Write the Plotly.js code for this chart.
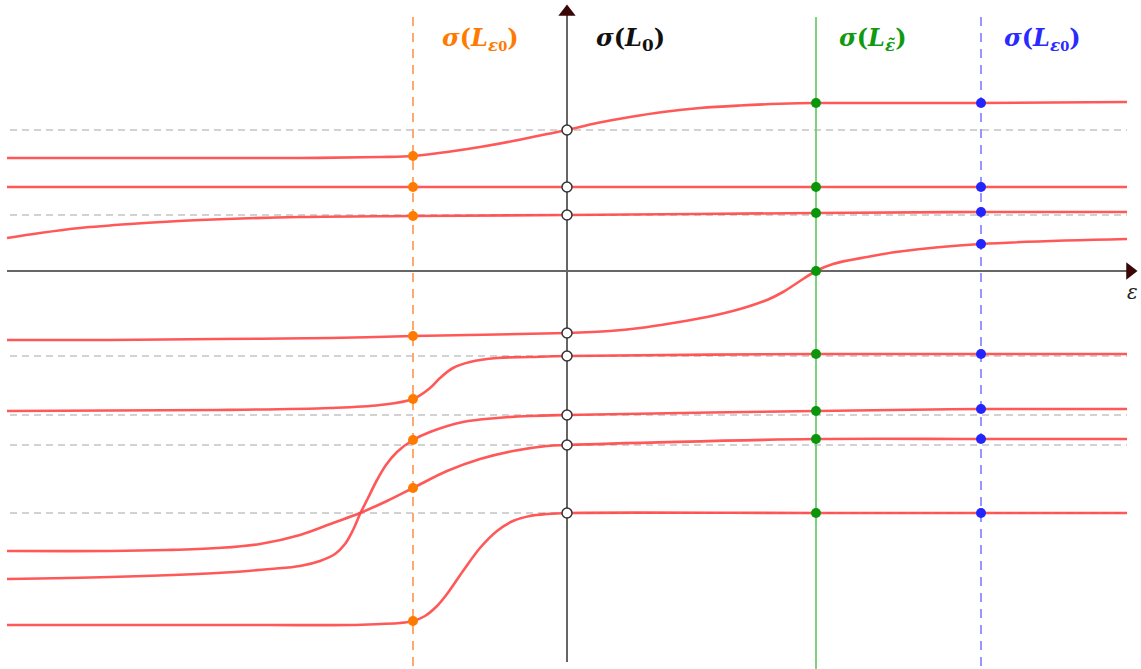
<!DOCTYPE html>
<html>
<head>
<meta charset="utf-8">
<script src="https://cdn.plot.ly/plotly-3.0.1.min.js"></script>
<style>
  html, body { margin: 0; padding: 0; background: #ffffff; }
  #chart { width: 1141px; height: 669px; }
</style>
</head>
<body>
<div id="chart"></div>
<script>
// Spectral branches sigma(L_eps) as functions of eps.
// Each branch: sampled eps positions and eigenvalue levels.
const branchA_eps = [-560, -367, -267, -187, -154, -120, -87, -54, -20, 0, 30, 63, 96, 133, 173, 213, 249, 414, 560];
const branchA_val = [113, 113, 113, 114, 115, 119, 124, 130, 137, 141, 148, 154, 159, 163, 165.5, 167.2, 168, 168, 169];

const branchB_eps = [-560, -154, 0, 249, 414, 560];
const branchB_val = [84, 84, 84, 84, 84, 84];

const branchC_eps = [-560, -527, -487, -437, -367, -267, -154, 0, 249, 414, 560];
const branchC_val = [33, 38, 43, 47, 51, 54, 55, 56, 58, 59, 59];

const branchD_eps = [-560, -457, -350, -237, -154, 0, 43, 73, 106, 140, 173, 200, 216, 230, 249, 266, 300, 333, 414, 560];
const branchD_val = [-69, -69, -68, -67, -65, -62, -60, -57, -52, -46, -38, -29, -21, -12, 0, 7, 14, 19.5, 27, 32];

const branchE_eps = [-560, -350, -237, -187, -154, -137, -127, -114, -97, -70, -37, 0, 249, 414, 560];
const branchE_val = [-140, -139, -137, -134, -128, -117, -107, -97, -91, -87, -86, -85, -83, -83, -83];

const branchF_eps = [-560, -457, -350, -297, -267, -247, -232, -222, -214, -207, -199, -190, -181, -170, -154, -137, -104, -70, -37, 0, 249, 414, 560];
const branchF_val = [-308, -306, -302, -298, -295, -290, -283, -273, -259, -243, -227, -209, -194, -181, -169, -161, -151, -147, -145, -144, -140, -138, -138];

const branchG_eps = [-560, -457, -400, -350, -307, -267, -234, -207, -180, -154, -120, -87, -54, -20, 0, 249, 414, 560];
const branchG_val = [-280, -280, -279, -277, -273, -264, -252, -242, -230, -217, -200, -188, -180, -175, -174, -168, -168, -168];

const branchH_eps = [-560, -400, -300, -217, -187, -167, -154, -142, -130, -120, -104, -87, -70, -54, -37, -20, 0, 249, 414, 560];
const branchH_val = [-354, -354, -354, -354, -353, -352, -350, -345, -335, -323, -300, -277, -260, -250, -245, -243, -242, -242, -242, -242];

// Parameters at which the spectrum is sampled
const epsOrange = -154;   // -eps0
const epsZero = 0;        // L_0
const epsGreen = 249;     // eps tilde
const epsBlue = 414;      // eps0

// Levels of sigma(L_0) marked with dashed guides
const guideLevels = [141, 56, -85, -144, -174, -242];

const branches = [
  [branchA_eps, branchA_val], [branchB_eps, branchB_val],
  [branchC_eps, branchC_val], [branchD_eps, branchD_val],
  [branchE_eps, branchE_val], [branchF_eps, branchF_val],
  [branchG_eps, branchG_val], [branchH_eps, branchH_val]
];

function valueAt(br, e) {
  const i = br[0].indexOf(e);
  return br[1][i];
}

const traces = [];

// dashed horizontal guides
guideLevels.forEach(v => {
  traces.push({
    x: [-557, 560], y: [v, v], mode: 'lines', hoverinfo: 'skip',
    line: {color: '#c4c4c4', width: 1.6, dash: '7px,5px'}
  });
});

// vertical lines at the sampled parameters
traces.push({x: [epsOrange, epsOrange], y: [254, -398], mode: 'lines', hoverinfo: 'skip',
  line: {color: '#ffa060', width: 1.8, dash: '9px,7px'}});
traces.push({x: [epsGreen, epsGreen], y: [254, -398], mode: 'lines', hoverinfo: 'skip',
  line: {color: '#70cc70', width: 1.8}});
traces.push({x: [epsBlue, epsBlue], y: [254, -398], mode: 'lines', hoverinfo: 'skip',
  line: {color: '#8c8cff', width: 1.8, dash: '9px,7px'}});

// coordinate axes
traces.push({x: [-560, 564], y: [0, 0], mode: 'lines', hoverinfo: 'skip',
  line: {color: '#666666', width: 2}});
traces.push({x: [0, 0], y: [-391, 258], mode: 'lines', hoverinfo: 'skip',
  line: {color: '#666666', width: 2}});
traces.push({x: [563], y: [0], mode: 'markers', hoverinfo: 'skip',
  marker: {symbol: 'triangle-right', size: 15, color: '#3a0606'}});
traces.push({x: [0], y: [259], mode: 'markers', hoverinfo: 'skip',
  marker: {symbol: 'triangle-up', size: 15, color: '#3a0606'}});

// spectral branches
branches.forEach(br => {
  traces.push({
    x: br[0], y: br[1], mode: 'lines', hoverinfo: 'skip',
    line: {color: 'rgba(255,70,70,0.9)', width: 2.6, shape: 'spline', smoothing: 1.0}
  });
});

// eigenvalues at each sampled parameter
function dots(e, fill, lineColor) {
  traces.push({
    x: branches.map(() => e), y: branches.map(br => valueAt(br, e)),
    mode: 'markers', hoverinfo: 'skip',
    marker: {size: 10, color: fill, line: {color: lineColor, width: lineColor ? 1.5 : 0}}
  });
}
dots(epsOrange, '#ff7a00', null);
dots(epsZero, '#ffffff', '#333333');
dots(epsGreen, '#0a960a', null);
dots(epsBlue, '#2424ff', null);

const labelFont = {family: 'DejaVu Serif, serif', size: 24};
const sub0 = '<span style="font-size:13px">0</span>';
const layout = {
  width: 1141, height: 669,
  margin: {l: 0, r: 0, t: 0, b: 0},
  paper_bgcolor: '#ffffff', plot_bgcolor: '#ffffff',
  showlegend: false,
  xaxis: {range: [-567, 574], visible: false, fixedrange: true},
  yaxis: {range: [-398, 271], visible: false, fixedrange: true},
  annotations: [
    {x: -87, y: 232, text: '<b><i>σ</i>(<i>L</i><sub><i>ε</i>' + sub0 + '</sub>)</b>', showarrow: false,
     font: Object.assign({}, labelFont, {color: '#ff7a00'})},
    {x: 63, y: 232, text: '<b><i>σ</i>(<i>L</i><sub>0</sub>)</b>', showarrow: false,
     font: Object.assign({}, labelFont, {color: '#111111'})},
    {x: 306, y: 232, text: '<b><i>σ</i>(<i>L</i><sub><i>ε̃</i></sub>)</b>', showarrow: false,
     font: Object.assign({}, labelFont, {color: '#119911'})},
    {x: 475, y: 232, text: '<b><i>σ</i>(<i>L</i><sub><i>ε</i>' + sub0 + '</sub>)</b>', showarrow: false,
     font: Object.assign({}, labelFont, {color: '#2a2aff'})},
    {x: 565, y: -21, text: '<i>ε</i>', showarrow: false,
     font: {family: 'DejaVu Serif, serif', size: 20, color: '#222222'}}
  ]
};

Plotly.newPlot('chart', traces, layout, {displayModeBar: false, staticPlot: true});
</script>
</body>
</html>
